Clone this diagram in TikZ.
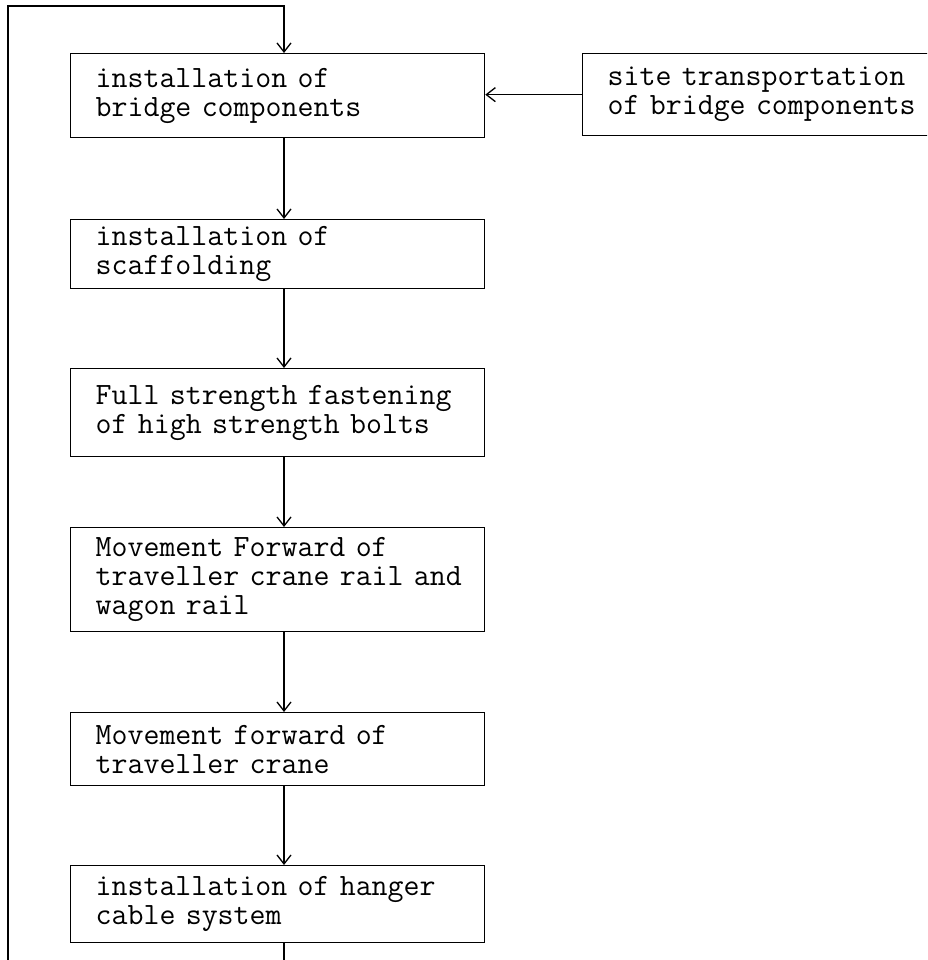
\documentclass[tikz,border=0pt]{standalone}
\usetikzlibrary{arrows.meta}
\begin{document}
\begin{tikzpicture}[x=1pt,y=-1pt,
  box/.style={draw, line width=1.3pt, rectangle, anchor=north west, minimum width=414pt,
    text width=364pt, inner xsep=25pt, inner ysep=0pt, align=left,
    font=\fontsize{31}{29}\selectfont\ttfamily},
  link/.style={line width=1.3pt, -{Straight Barb[length=9pt,width=14pt,line width=1.3pt]}},
  plain/.style={line width=1.3pt}]
\clip (0,0) rectangle (927,960);
\fill[white] (0,0) rectangle (927,960);
\coordinate (colx) at (284,0);
\node[box, minimum height=84pt] (b1) at (70,53) {installation of\\bridge components};
\node[box, minimum height=69pt] (b2) at (70,219) {installation of\\scaffolding};
\node[box, minimum height=88pt] (b3) at (70,368) {\mbox{Full strength fastening}\\of high strength bolts};
\node[box, minimum height=104pt] (b4) at (70,527) {Movement Forward of\\\mbox{traveller crane rail and}\\wagon rail};
\node[box, minimum height=73pt] (b5) at (70,712) {Movement forward of\\traveller crane};
\node[box, minimum height=77pt] (b6) at (70,865) {installation of hanger\\cable system};
\node[box, minimum height=82pt, minimum width=420pt, text width=370pt] (site) at (582,53) {site transportation\\of bridge components};
\coordinate (bot1) at (284,965);
\coordinate (bot2) at (8,965);
\coordinate (top1) at (8,6);
\draw[link] (b1.south -| colx) -- (b2.north -| colx);
\draw[link] (b2.south -| colx) -- (b3.north -| colx);
\draw[link] (b3.south -| colx) -- (b4.north -| colx);
\draw[link] (b4.south -| colx) -- (b5.north -| colx);
\draw[link] (b5.south -| colx) -- (b6.north -| colx);
\draw[plain] (b6.south -| colx) -- (bot1);
\draw[link] (bot2) -- (top1) -| (b1.north -| colx);
\draw[link, line width=0.9pt] (site.west) -- (b1.east |- site.west);
\end{tikzpicture}
\end{document}
